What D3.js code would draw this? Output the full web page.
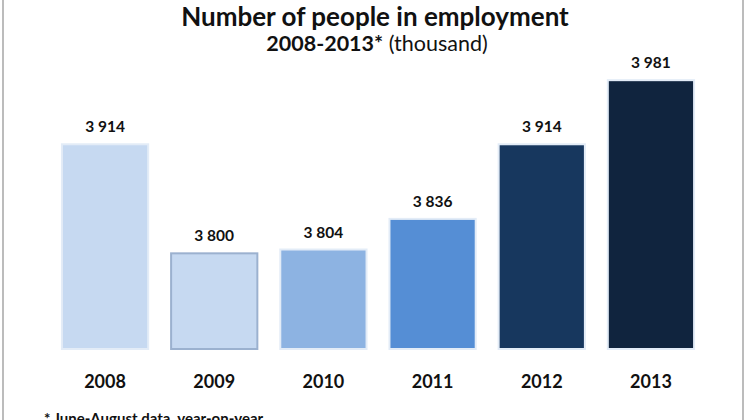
<!DOCTYPE html>
<html>
<head>
<meta charset="utf-8">
<script src="https://cdn.jsdelivr.net/npm/d3@7"></script>
<style>
  body { margin: 0; background: #fff; }
  svg { display: block; font-family: Lato, "Open Sans", sans-serif; }
</style>
</head>
<body>
<svg id="chart" width="750" height="420"></svg>
<script>
  var years = ['2008', '2009', '2010', '2011', '2012', '2013'];
  var employed = [3914, 3800, 3804, 3836, 3914, 3981];
  var barColors = ['#c6d9f1', '#c6d9f1', '#8db3e2', '#558ed5', '#17375e', '#10243e'];

  var width = 750;
  var height = 420;
  var svg = d3.select('#chart');

  var data = years.map(function(y, i) {
    return {year: y, value: employed[i], color: barColors[i]};
  });

  var x = d3.scaleBand()
      .domain(years)
      .range([51, 705])
      .paddingInner(0.21)
      .paddingOuter(0.1);

  var y = d3.scaleLinear()
      .domain([3700, 4000])
      .range([349, 62]);

  // frame lines left and right
  svg.append('line')
      .attr('x1', 3).attr('x2', 3)
      .attr('y1', 0).attr('y2', height)
      .attr('stroke', '#a6a6a6').attr('stroke-width', 1.5);
  svg.append('line')
      .attr('x1', 743).attr('x2', 743)
      .attr('y1', 0).attr('y2', height)
      .attr('stroke', '#a6a6a6').attr('stroke-width', 1.5);

  svg.append('text')
      .attr('x', width / 2)
      .attr('y', 26)
      .attr('text-anchor', 'middle')
      .style('font-size', '26px')
      .style('font-weight', 'bold')
      .style('fill', '#111')
      .text('Number of people in employment');

  var sub = svg.append('text')
      .attr('x', 377)
      .attr('y', 51)
      .attr('text-anchor', 'middle')
      .style('font-size', '21.5px')
      .style('fill', '#111');
  sub.append('tspan').style('font-weight', 'bold').text('2008-2013*');
  sub.append('tspan').text(' (thousand)');

  var bars = svg.append('g').attr('class', 'bars');

  bars.selectAll('rect')
    .data(data)
    .enter()
    .append('rect')
      .attr('x', function(d) { return x(d.year); })
      .attr('y', function(d) { return y(d.value); })
      .attr('width', x.bandwidth())
      .attr('height', function(d) { return y(3700) - y(d.value); })
      .attr('fill', function(d) { return d.color; })
      .attr('stroke', function(d, i) { return i === 1 ? '#9bb1cf' : '#e3ecf7'; })
      .attr('stroke-width', 2);

  svg.append('g')
    .selectAll('text')
    .data(data)
    .enter()
    .append('text')
      .attr('x', function(d) { return x(d.year) + x.bandwidth() / 2; })
      .attr('y', function(d) { return y(d.value) - 12; })
      .attr('text-anchor', 'middle')
      .style('font-size', '15.5px')
      .style('font-weight', 'bold')
      .style('fill', '#111')
      .text(function(d) { return d3.format(',')(d.value).replace(',', ' '); });

  var xAxis = svg.append('g')
      .attr('transform', 'translate(0,' + 388 + ')')
      .call(d3.axisBottom(x).tickSize(0).tickPadding(0));
  xAxis.select('.domain').remove();
  xAxis.selectAll('text')
      .attr('dy', 0)
      .style('font-family', 'Lato, "Open Sans", sans-serif')
      .style('font-size', '18px')
      .style('font-weight', 'bold')
      .style('fill', '#111');

  // footnote sits partly below the bottom edge, as in the original
  svg.append('text')
      .attr('x', 44)
      .attr('y', 424)
      .style('font-size', '15px')
      .style('font-weight', 'bold')
      .style('fill', '#111')
      .text('* June-August data, year-on-year');
</script>
</body>
</html>
